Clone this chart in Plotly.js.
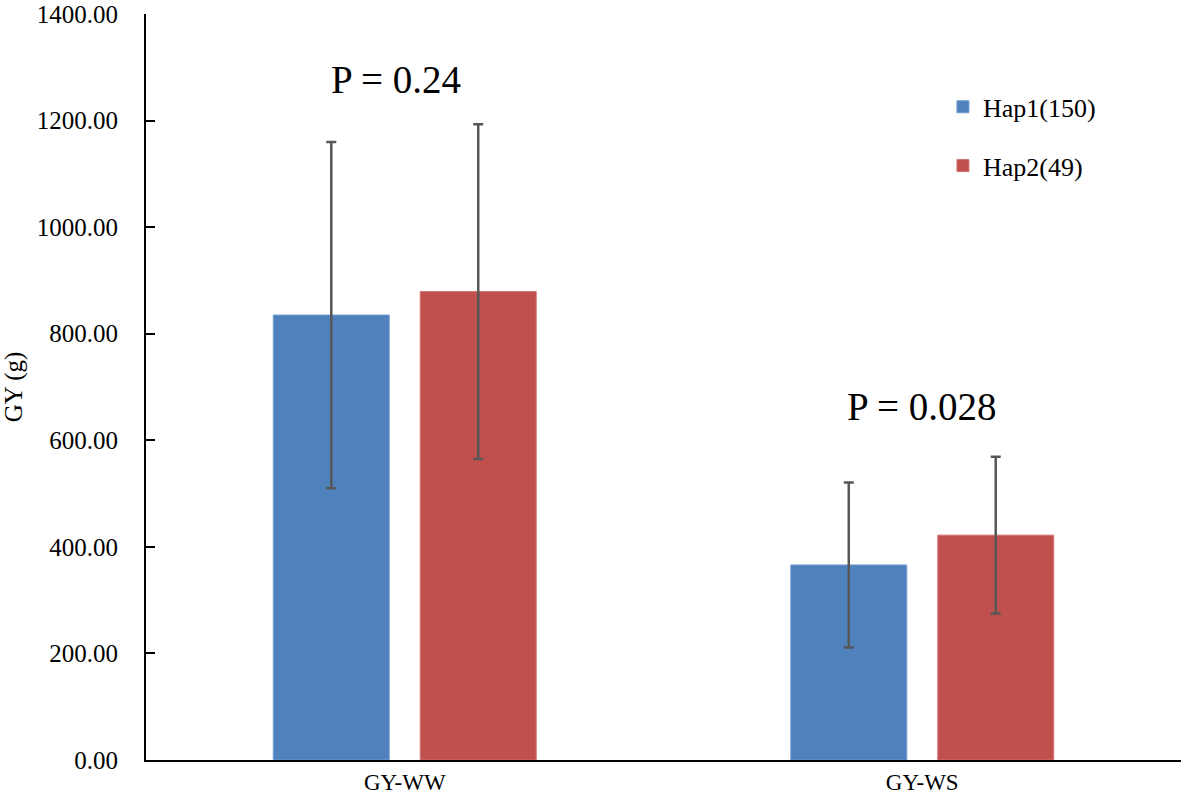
<!DOCTYPE html>
<html>
<head>
<meta charset="utf-8">
<script src="https://cdn.plot.ly/plotly-3.0.1.min.js"></script>
<style>html,body{margin:0;padding:0;background:#fff;}#chart{width:1181px;height:801px;}</style>
</head>
<body>
<div id="chart"></div>
<script>
var categories = ['GY-WW', 'GY-WS'];
var hap1Name = 'Hap1(150)';
var hap2Name = 'Hap2(49)';
var hap1Values = [835, 366];
var hap1Errors = [325, 155];
var hap2Values = [879, 422];
var hap2Errors = [314, 147];
var pLabels = ['P = 0.24', 'P = 0.028'];
var pLabelY = [1278, 663];
var yTickVals = [0, 200, 400, 600, 800, 1000, 1200, 1400];
var yTickText = ['0.00', '200.00', '400.00', '600.00', '800.00', '1000.00', '1200.00', '1400.00'];

var serif = 'Liberation Serif';
var errStyle = {color: '#575757', thickness: 2.5, width: 5};

var traces = [
  {type: 'bar', name: hap1Name, x: categories, y: hap1Values, legendgroup: 'a',
   marker: {color: '#4F81BD', line: {color: '#6F9AD0', width: 1}},
   error_y: Object.assign({type: 'data', array: hap1Errors, visible: true}, errStyle)},
  {type: 'bar', name: hap2Name, x: categories, y: hap2Values, legendgroup: 'b',
   marker: {color: '#C0504D', line: {color: '#D07370', width: 1}},
   error_y: Object.assign({type: 'data', array: hap2Errors, visible: true}, errStyle)}
];

var annotations = pLabels.map(function (t, i) {
  return {text: t, x: categories[i], y: pLabelY[i], xref: 'x', yref: 'y',
          showarrow: false, xshift: i === 0 ? -9 : 0,
          font: {family: serif, size: 39, color: '#000'}};
});

var layout = {
  width: 1181, height: 801,
  margin: {l: 146, r: 0, t: 14, b: 41},
  paper_bgcolor: '#fff', plot_bgcolor: '#fff',
  barmode: 'group', bargap: 0.432, bargroupgap: 0.211,
  font: {family: serif, color: '#000', size: 22},
  xaxis: {type: 'category', showline: true, linecolor: '#000', linewidth: 2,
          ticks: '', showgrid: false, zeroline: false,
          tickfont: {family: serif, size: 23, color: '#000'}},
  yaxis: {range: [0, 1400], tickvals: yTickVals, ticktext: yTickText,
          showline: true, linecolor: '#000', linewidth: 2,
          ticks: 'inside', ticklen: 9, tickwidth: 2, tickcolor: '#000',
          showgrid: false, zeroline: false, ticklabelstandoff: 21,
          ticklabeloverflow: 'allow',
          tickfont: {family: serif, size: 25, color: '#000'},
          title: {text: 'GY (g)', standoff: 12, font: {family: serif, size: 25, color: '#000'}}},
  legend: {x: 0.77, y: 0.907, xanchor: 'left', yanchor: 'top',
           traceorder: 'grouped', tracegroupgap: 22,
           font: {family: serif, size: 26, color: '#000'}, bgcolor: 'rgba(0,0,0,0)'},
  annotations: annotations
};

Plotly.newPlot('chart', traces, layout, {displayModeBar: false, staticPlot: true});
</script>
</body>
</html>
